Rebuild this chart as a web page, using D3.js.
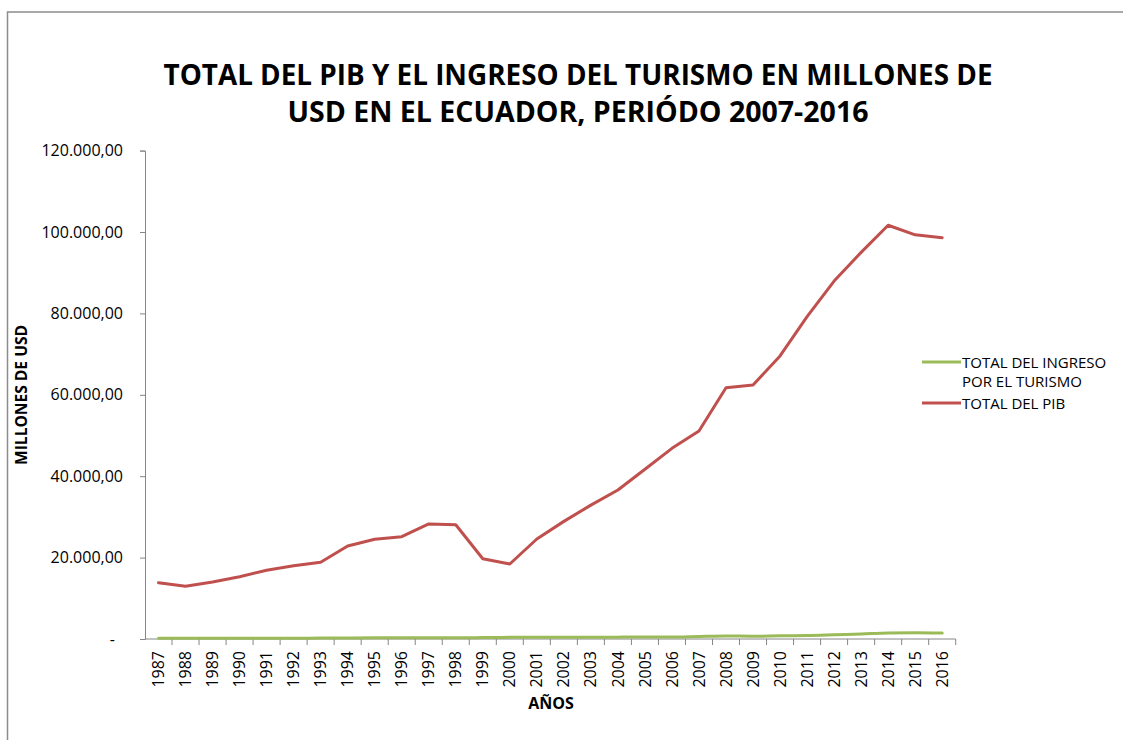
<!DOCTYPE html>
<html>
<head>
<meta charset="utf-8">
<script src="https://cdn.jsdelivr.net/npm/d3@7"></script>
<style>
  body { margin: 0; background: #fff; }
  text { font-family: "Open Sans", "Liberation Sans", sans-serif; }
</style>
</head>
<body>
<div id="chart"></div>
<script>
var years = [1987, 1988, 1989, 1990, 1991, 1992, 1993, 1994, 1995, 1996,
             1997, 1998, 1999, 2000, 2001, 2002, 2003, 2004, 2005, 2006,
             2007, 2008, 2009, 2010, 2011, 2012, 2013, 2014, 2015, 2016]
var pib = [13830, 12950, 14000, 15300, 16880, 18000, 18840, 22850, 24500, 25140,
           28260, 28080, 19730, 18430, 24570, 28900, 32900, 36600, 41700, 46850,
           51100, 61750, 62400, 69550, 79200, 87950, 95000, 101650, 99300, 98600]
var turismo = [170, 180, 190, 190, 190, 190, 230, 250, 280, 280,
               290, 290, 340, 400, 430, 450, 410, 460, 490, 490,
               630, 745, 670, 790, 850, 1040, 1250, 1490, 1560, 1450]
var yTicks = [0, 20000, 40000, 60000, 80000, 100000, 120000]
var titleLines = ["TOTAL DEL PIB Y EL INGRESO DEL TURISMO EN MILLONES DE",
                  "USD EN EL ECUADOR, PERIÓDO 2007-2016"]
var seriesNames = [["TOTAL DEL INGRESO", "POR EL TURISMO"], ["TOTAL DEL PIB"]]

var width = 1123, height = 740
var red = "#C0504D", green = "#9BBB59", axisGrey = "#868686"

var svg = d3.select("#chart").append("svg")
    .attr("width", width).attr("height", height)

// chart frame
svg.append("path")
    .attr("d", "M7.5," + height + "V12H" + width)
    .attr("fill", "none").attr("stroke", "#8c8c8c").attr("stroke-width", 1.5)

// title
svg.append("g").selectAll("text")
    .data(titleLines).enter().append("text")
    .attr("x", 578).attr("y", (d, i) => 85 + i * 37)
    .attr("text-anchor", "middle")
    .attr("font-size", 29).attr("font-weight", "bold")
    .attr("textLength", (d, i) => i == 0 ? 829 : 581)
    .attr("lengthAdjust", "spacingAndGlyphs")
    .text(d => d)

var x = d3.scaleBand().domain(years).range([145, 955.7])
var y = d3.scaleLinear().domain([0, 120000]).range([639, 150.6])

var locale = d3.formatLocale({ decimal: ",", thousands: ".", grouping: [3], currency: ["", ""] })
var fmt = locale.format(",.2f")

// y axis
var yAxis = svg.append("g")
    .attr("transform", "translate(145,0)")
    .call(d3.axisLeft(y).tickValues(yTicks).tickSize(5).tickPadding(17)
        .tickFormat(d => d == 0 ? "-" : fmt(d)))
yAxis.select(".domain").attr("stroke", axisGrey)
yAxis.selectAll(".tick line").attr("stroke", axisGrey)
yAxis.selectAll(".tick text").attr("font-size", 16).attr("fill", "#000")
    .attr("font-family", "Open Sans")
yAxis.selectAll(".tick text").filter(d => d == 0).attr("dx", -8)

// x axis
var xAxis = svg.append("g")
    .attr("transform", "translate(0,639)")
    .call(d3.axisBottom(x).tickSize(0).tickPadding(0))
xAxis.select(".domain").attr("stroke", axisGrey).attr("d", "M145,0H955.7")
xAxis.selectAll(".tick text")
    .attr("font-size", 16).attr("fill", "#000")
    .attr("font-family", "Open Sans")
    .attr("transform", "rotate(-90)")
    .attr("text-anchor", "end")
    .attr("x", -12).attr("y", 0).attr("dy", "0.35em")
xAxis.selectAll(".boundary")
    .data(years).enter().append("line")
    .attr("class", "boundary")
    .attr("x1", d => x(d) + x.bandwidth()).attr("x2", d => x(d) + x.bandwidth())
    .attr("y1", 0).attr("y2", 6)
    .attr("stroke", axisGrey)

// axis titles
svg.append("text")
    .attr("transform", "translate(27,395) rotate(-90)")
    .attr("text-anchor", "middle")
    .attr("font-size", 16).attr("font-weight", "bold")
    .attr("textLength", 140).attr("lengthAdjust", "spacingAndGlyphs")
    .text("MILLONES DE USD")
svg.append("text")
    .attr("x", 551).attr("y", 709)
    .attr("text-anchor", "middle")
    .attr("font-size", 16).attr("font-weight", "bold")
    .text("AÑOS")

// lines
var cx = d => x(d) + x.bandwidth() / 2
var pibLine = d3.line().x((d, i) => cx(years[i])).y(d => y(d))
var turLine = d3.line().x((d, i) => cx(years[i])).y(d => y(d)).curve(d3.curveMonotoneX)

svg.append("path").datum(turismo)
    .attr("d", turLine)
    .attr("fill", "none").attr("stroke", green).attr("stroke-width", 3)
    .attr("stroke-linecap", "round")
svg.append("path").datum(pib)
    .attr("d", pibLine)
    .attr("fill", "none").attr("stroke", red).attr("stroke-width", 3)
    .attr("stroke-linecap", "round").attr("stroke-linejoin", "round")

// legend
var legend = svg.append("g")
var legendY = [362, 403]
var legendCol = [green, red]
seriesNames.forEach((name, i) => {
    legend.append("line")
        .attr("x1", 922).attr("x2", 961)
        .attr("y1", legendY[i]).attr("y2", legendY[i])
        .attr("stroke", legendCol[i]).attr("stroke-width", 3)
    legend.append("text")
        .attr("x", 962).attr("y", legendY[i] + 6)
        .attr("font-size", 15)
        .selectAll("tspan").data(name).enter().append("tspan")
        .attr("x", 962).attr("dy", (d, j) => j == 0 ? 0 : 19)
        .text(d => d)
})
</script>
</body>
</html>
